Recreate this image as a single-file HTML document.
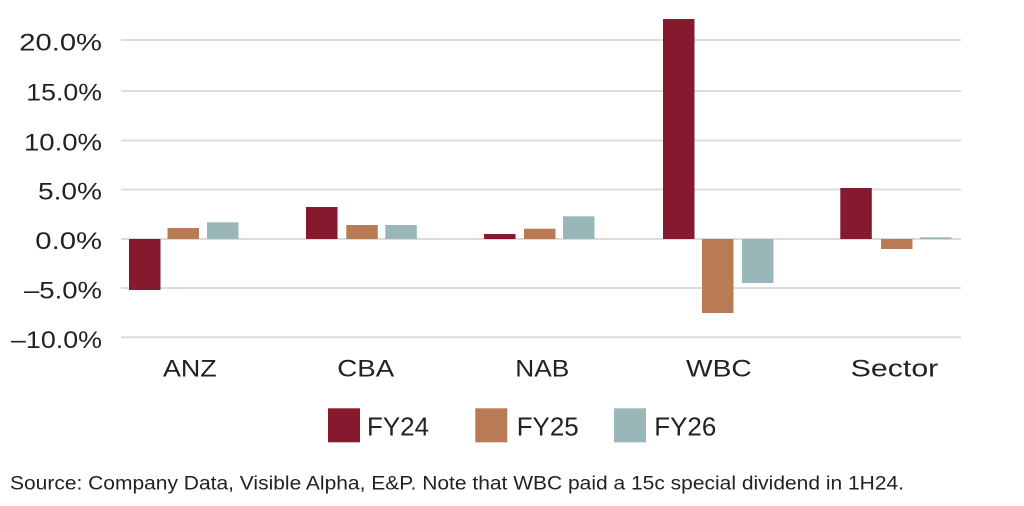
<!DOCTYPE html>
<html><head><meta charset="utf-8"><style>
html,body{margin:0;padding:0;background:#fff;}
svg{display:block;}
text{font-family:"Liberation Sans",sans-serif;fill:#222;}
</style></head><body>
<svg width="1024" height="506" viewBox="0 0 1024 506" xmlns="http://www.w3.org/2000/svg">
<g stroke="#dcdcdc" stroke-width="2">
<line x1="121" y1="40" x2="961" y2="40"/>
<line x1="121" y1="91" x2="961" y2="91"/>
<line x1="121" y1="140.5" x2="961" y2="140.5"/>
<line x1="121" y1="189.5" x2="961" y2="189.5"/>
<line x1="121" y1="239" x2="961" y2="239"/>
<line x1="121" y1="288" x2="961" y2="288"/>
<line x1="121" y1="337.3" x2="961" y2="337.3"/>
</g>
<g font-size="24.5" text-anchor="end">
<text x="102" y="50.5" textLength="82.7" lengthAdjust="spacingAndGlyphs">20.0%</text>
<text x="102" y="100.5" textLength="75.7" lengthAdjust="spacingAndGlyphs">15.0%</text>
<text x="102" y="150.5" textLength="78" lengthAdjust="spacingAndGlyphs">10.0%</text>
<text x="102" y="199.5" textLength="64" lengthAdjust="spacingAndGlyphs">5.0%</text>
<text x="102" y="249" textLength="66.7" lengthAdjust="spacingAndGlyphs">0.0%</text>
<text x="102" y="298.5" textLength="78" lengthAdjust="spacingAndGlyphs">–5.0%</text>
<text x="102" y="348" textLength="91" lengthAdjust="spacingAndGlyphs">–10.0%</text>
</g>
<g fill="#851a2e">
<rect x="129" y="239" width="31.5" height="51"/>
<rect x="306" y="207" width="31.5" height="32"/>
<rect x="484" y="234" width="31.5" height="5"/>
<rect x="663" y="19" width="31.5" height="220"/>
<rect x="840.3" y="188" width="31.5" height="51"/>
</g>
<g fill="#b97a56">
<rect x="167.5" y="228" width="31.5" height="11"/>
<rect x="346.3" y="225" width="31.5" height="14"/>
<rect x="524" y="228.7" width="31.5" height="10.3"/>
<rect x="702" y="239" width="31.5" height="74"/>
<rect x="881" y="239" width="31.5" height="10"/>
</g>
<g fill="#99b6b8">
<rect x="207" y="222.3" width="31.5" height="16.7"/>
<rect x="385.3" y="225" width="31.5" height="14"/>
<rect x="563" y="216.3" width="31.5" height="22.7"/>
<rect x="742" y="239" width="31.5" height="44"/>
<rect x="920" y="237.3" width="31.5" height="1.7"/>
</g>
<g font-size="24">
<text x="163" y="376.7" textLength="53.7" lengthAdjust="spacingAndGlyphs">ANZ</text>
<text x="337.3" y="376.7" textLength="57" lengthAdjust="spacingAndGlyphs">CBA</text>
<text x="515.3" y="376.7" textLength="54" lengthAdjust="spacingAndGlyphs">NAB</text>
<text x="686" y="376.7" textLength="65.7" lengthAdjust="spacingAndGlyphs">WBC</text>
<text x="850.7" y="376.7" textLength="87.6" lengthAdjust="spacingAndGlyphs">Sector</text>
</g>
<rect x="328" y="408.3" width="32" height="34" fill="#851a2e"/>
<rect x="475.3" y="408.3" width="32" height="34" fill="#b97a56"/>
<rect x="614" y="408.3" width="32" height="34" fill="#99b6b8"/>
<g font-size="26">
<text x="367" y="435.7" textLength="62" lengthAdjust="spacingAndGlyphs">FY24</text>
<text x="516.7" y="435.7" textLength="62" lengthAdjust="spacingAndGlyphs">FY25</text>
<text x="654.3" y="435.7" textLength="62" lengthAdjust="spacingAndGlyphs">FY26</text>
</g>
<text x="10" y="489.3" font-size="19" textLength="894" lengthAdjust="spacingAndGlyphs">Source: Company Data, Visible Alpha, E&amp;P. Note that WBC paid a 15c special dividend in 1H24.</text>
</svg>
</body></html>
